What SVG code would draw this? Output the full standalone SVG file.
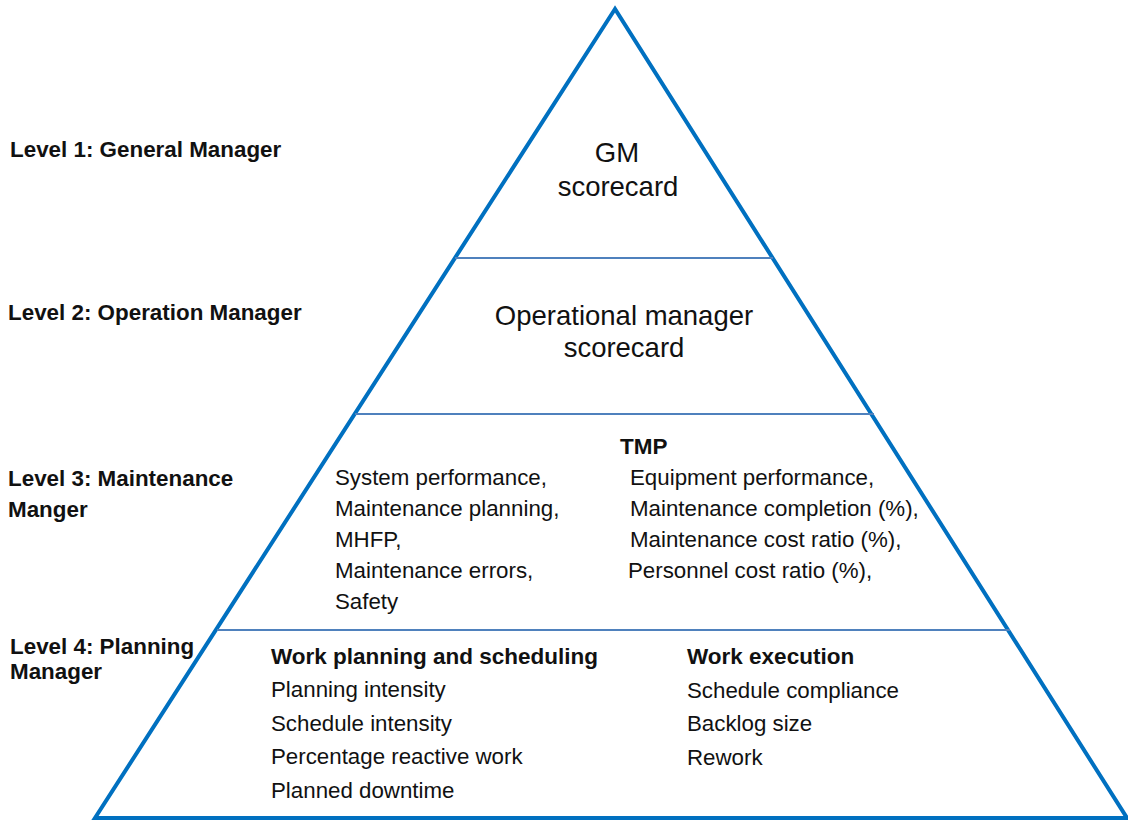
<svg xmlns="http://www.w3.org/2000/svg" width="1128" height="820" viewBox="0 0 1128 820">
<style>
.t{font-family:"Liberation Sans",Arial,sans-serif;fill:#111;}
.lvl{font-size:22.4px;font-weight:bold;}
.big{font-size:27.5px;}
.li{font-size:22.3px;}
.hd{font-size:22.5px;font-weight:bold;}
.edge{fill:none;stroke:#0070C0;stroke-width:4;stroke-linejoin:miter;}
.div{stroke:#4F81BD;stroke-width:2;}
</style>
<rect width="1128" height="820" fill="#fff"/>
<g id="connectors">
<polygon class="edge" points="615,9 95,818 1127,818"/>
<line class="div" x1="455" y1="258" x2="773" y2="258"/>
<line class="div" x1="355" y1="414" x2="874" y2="414"/>
<line class="div" x1="217" y1="630" x2="1010" y2="630"/>
</g>
<g id="labels">
<text class="t lvl" x="10" y="157">Level 1: General Manager</text>
<text class="t lvl" x="8" y="320">Level 2: Operation Manager</text>
<text class="t lvl" x="8" y="486">Level 3: Maintenance</text>
<text class="t lvl" x="8" y="517">Manger</text>
<text class="t lvl" x="10" y="654">Level 4: Planning</text>
<text class="t lvl" x="10" y="679">Manager</text>
</g>
<g id="level1">
<text class="t big" x="617" y="162" text-anchor="middle">GM</text>
<text class="t big" x="618" y="196" text-anchor="middle">scorecard</text>
</g>
<g id="level2">
<text class="t big" x="624" y="325" text-anchor="middle">Operational manager</text>
<text class="t big" x="624" y="357" text-anchor="middle">scorecard</text>
</g>
<g id="level3">
<text class="t hd" x="620" y="454">TMP</text>
<text class="t li" x="335" y="485">System performance,</text>
<text class="t li" x="335" y="516">Maintenance planning,</text>
<text class="t li" x="335" y="547">MHFP,</text>
<text class="t li" x="335" y="578">Maintenance errors,</text>
<text class="t li" x="335" y="609">Safety</text>
<text class="t li" x="630" y="485">Equipment performance,</text>
<text class="t li" x="630" y="516">Maintenance completion (%),</text>
<text class="t li" x="630" y="547">Maintenance cost ratio (%),</text>
<text class="t li" x="628" y="578">Personnel cost ratio (%),</text>
</g>
<g id="level4">
<text class="t hd" x="271" y="664">Work planning and scheduling</text>
<text class="t li" x="271" y="697">Planning intensity</text>
<text class="t li" x="271" y="731">Schedule intensity</text>
<text class="t li" x="271" y="764">Percentage reactive work</text>
<text class="t li" x="271" y="798">Planned downtime</text>
<text class="t hd" x="687" y="664">Work execution</text>
<text class="t li" x="687" y="698">Schedule compliance</text>
<text class="t li" x="687" y="731">Backlog size</text>
<text class="t li" x="687" y="765">Rework</text>
</g>
</svg>
